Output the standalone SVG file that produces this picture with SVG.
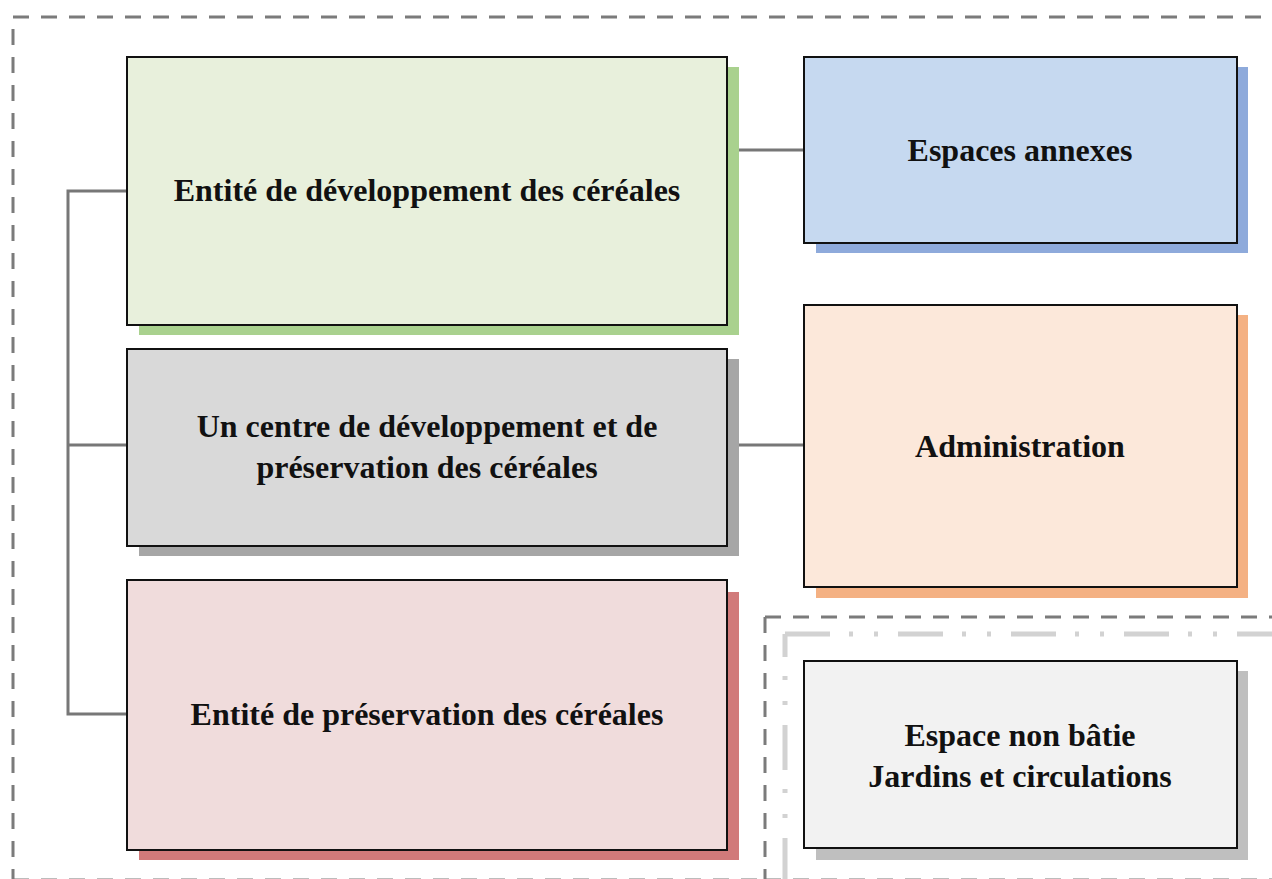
<svg xmlns="http://www.w3.org/2000/svg" width="1272" height="879" viewBox="0 0 1272 879">
<style>
.frame{fill:none;stroke:#7b7b7b;stroke-width:3;stroke-dasharray:16 12}
.dashdot{fill:none;stroke:#d2d2d2;stroke-width:5;stroke-dasharray:45 19 4 21 4 20}
.box{stroke:#111;stroke-width:2}
.conn{fill:none;stroke:#777;stroke-width:3}
.t{font-family:"Liberation Serif","Times New Roman",serif;font-weight:bold;font-size:32px;fill:#111;text-anchor:middle}
</style>
<rect width="1272" height="879" fill="#fff"/>
<g id="frames">
<path class="frame" d="M13,17 H1280"/>
<path class="frame" d="M13,17 V880" stroke-dashoffset="16"/>
<path class="frame" d="M13,880 H765"/>
<path class="frame" d="M765,617 H1280"/>
<path class="frame" d="M765,617 V880"/>
<path class="frame" d="M765,880 H1280"/>
<path class="dashdot" d="M785,634 H1280"/>
<path class="dashdot" d="M785,634 V882" stroke-dashoffset="22"/>
<path class="dashdot" d="M785,882 H1280"/>
</g>
<g id="connectors">
<path class="conn" d="M127,191 H68 V714 H127"/>
<path class="conn" d="M68,445 H127"/>
<path class="conn" d="M739,150 H804"/>
<path class="conn" d="M739,445 H804"/>
</g>
<g id="n-dev">
<rect x="139" y="67" width="600" height="268" fill="#a9d18e"/>
<rect class="box" x="127" y="57" width="600" height="268" fill="#e8f0dc"/>
<text class="t" x="427" y="201">Entité de développement des céréales</text>
</g>
<g id="n-centre">
<rect x="139" y="359" width="600" height="197" fill="#a6a6a6"/>
<rect class="box" x="127" y="349" width="600" height="197" fill="#d9d9d9"/>
<text class="t" x="427" y="437">Un centre de développement et de</text>
<text class="t" x="427" y="478">préservation des céréales</text>
</g>
<g id="n-pres">
<rect x="139" y="592" width="600" height="268" fill="#d17a7a"/>
<rect class="box" x="127" y="580" width="600" height="270" fill="#f0dcdc"/>
<text class="t" x="427" y="725">Entité de préservation des céréales</text>
</g>
<g id="n-annexes">
<rect x="816" y="67" width="432" height="186" fill="#8eaadb"/>
<rect class="box" x="804" y="57" width="433" height="186" fill="#c6d9f0"/>
<text class="t" x="1020" y="161">Espaces annexes</text>
</g>
<g id="n-admin">
<rect x="816" y="315" width="432" height="283" fill="#f4b183"/>
<rect class="box" x="804" y="305" width="433" height="282" fill="#fce8da"/>
<text class="t" x="1020" y="457">Administration</text>
</g>
<g id="n-espace">
<rect x="816" y="671" width="432" height="189" fill="#bfbfbf"/>
<rect class="box" x="804" y="661" width="433" height="187" fill="#f2f2f2"/>
<text class="t" x="1020" y="746">Espace non bâtie</text>
<text class="t" x="1020" y="787">Jardins et circulations</text>
</g>
</svg>
